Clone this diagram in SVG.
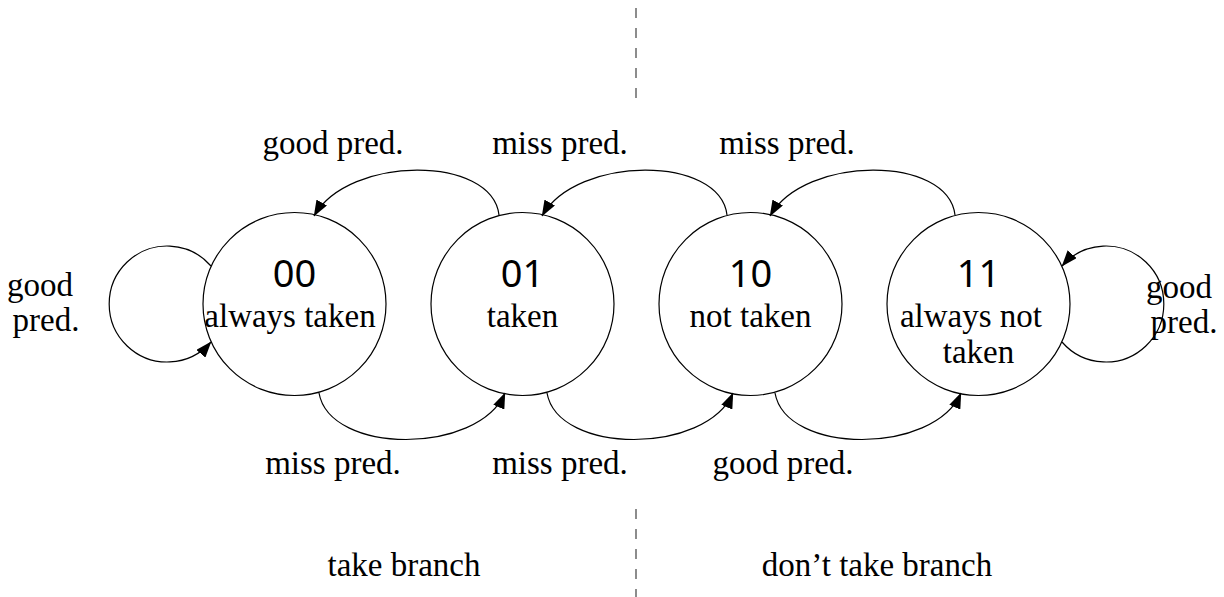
<svg xmlns="http://www.w3.org/2000/svg" width="1224" height="597" viewBox="0 0 1224 597">
  <defs>
    <marker id="arr" markerUnits="userSpaceOnUse" viewBox="0 0 16 12" markerWidth="16" markerHeight="12" refX="15.5" refY="6" orient="auto">
      <path d="M0,0 L16,6 L0,12 z" fill="#000"/>
    </marker>
    <style>
      .node { fill: none; stroke: #000; stroke-width: 1.2; }
      .edge { fill: none; stroke: #000; stroke-width: 1.2; marker-end: url(#arr); }
      .sep { stroke: #808080; stroke-width: 1.8; stroke-dasharray: 10 10; }
      .lbl { font-family: "Liberation Serif", "Times New Roman", serif; font-size: 33px; fill: #000; text-anchor: middle; }
      .num { font-family: "Noto Sans", "Open Sans", sans-serif; font-size: 38px; fill: #000; text-anchor: middle; }
    </style>
  </defs>
  <rect width="1224" height="597" fill="#fff"/>

  <g id="separator">
    <line class="sep" x1="636" y1="8" x2="636" y2="98"/>
    <line class="sep" x1="636" y1="509" x2="636" y2="597"/>
  </g>

  <g id="connectors">
    <path class="edge" d="M 499 215 C 492 155, 349 155, 314 216"/>
    <path class="edge" d="M 727 215 C 720 155, 577 155, 542 216"/>
    <path class="edge" d="M 955 215 C 948 155, 805 155, 770 216"/>
    <path class="edge" d="M 319 393 C 330 455, 478 455, 505 393"/>
    <path class="edge" d="M 547 393 C 558 455, 706 455, 733 393"/>
    <path class="edge" d="M 775 393 C 786 455, 934 455, 961 393"/>
    <path class="edge" d="M 211 266 A 58 58 0 1 0 211 342"/>
    <path class="edge" d="M 1062 342 A 58 58 0 1 0 1062 266"/>
  </g>

  <g id="edge-labels">
    <text class="lbl" x="333" y="154">good pred.</text>
    <text class="lbl" x="560" y="154">miss pred.</text>
    <text class="lbl" x="787" y="154">miss pred.</text>
    <text class="lbl" x="333" y="474">miss pred.</text>
    <text class="lbl" x="560" y="474">miss pred.</text>
    <text class="lbl" x="783" y="474">good pred.</text>
    <text class="lbl" x="40" y="296">good</text>
    <text class="lbl" x="46" y="331">pred.</text>
    <text class="lbl" x="1179" y="298">good</text>
    <text class="lbl" x="1184" y="333">pred.</text>
  </g>

  <g id="node-00">
    <circle class="node" cx="294.5" cy="304" r="91.5"/>
    <text class="num" x="294.5" y="287">00</text>
    <text class="lbl" x="290" y="327">always taken</text>
  </g>
  <g id="node-01">
    <circle class="node" cx="522.5" cy="304" r="91.5"/>
    <text class="num" x="522.5" y="287">01</text>
    <text class="lbl" x="522.5" y="327">taken</text>
  </g>
  <g id="node-10">
    <circle class="node" cx="750.5" cy="304" r="91.5"/>
    <text class="num" x="750.5" y="287">10</text>
    <text class="lbl" x="750.5" y="327">not taken</text>
  </g>
  <g id="node-11">
    <circle class="node" cx="978.5" cy="304" r="91.5"/>
    <text class="num" x="978.5" y="287">11</text>
    <text class="lbl" x="971" y="327">always not</text>
    <text class="lbl" x="978.5" y="363">taken</text>
  </g>

  <g id="region-labels">
    <text class="lbl" x="404" y="576">take branch</text>
    <text class="lbl" x="877" y="576">don’t take branch</text>
  </g>
</svg>
